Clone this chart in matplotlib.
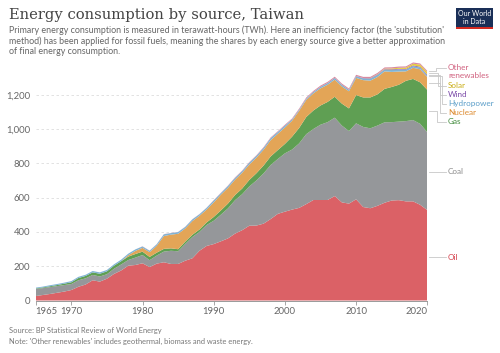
import numpy as np
import matplotlib
matplotlib.use("Agg")
import matplotlib.pyplot as plt
from matplotlib.patches import Rectangle

# ── DATA (TWh, substitution method) ──────────────────────────────────────────
years = list(range(1965, 2021))

oil = [26, 32, 38, 45, 52, 61, 80, 93, 118, 110, 127, 155, 175, 203, 207, 217,
       195, 215, 223, 213, 213, 232, 246, 290, 318, 329, 345, 362, 390, 410,
       436, 437, 448, 475, 505, 518, 530, 540, 562, 586, 586, 586, 609, 572,
       565, 590, 545, 538, 552, 570, 583, 585, 578, 578, 558, 527]
coal = [41, 40, 40, 39, 38, 35, 38, 36, 31, 30, 26, 30, 35, 33, 43, 48,
        40, 47, 62, 77, 74, 98, 124, 110, 122, 136, 155, 175, 195, 210,
        229, 263, 293, 315, 320, 340, 350, 376, 408, 414, 439, 454, 457, 448,
        423, 443, 467, 466, 468, 469, 457, 458, 468, 474, 472, 454]
gas = [3, 4, 5, 6, 8, 10, 13, 14, 15, 16, 17, 18, 19, 20, 21, 20,
       19, 17, 16, 14, 12, 13, 13, 14, 15, 22, 25, 28, 30, 33,
       38, 42, 46, 50, 52, 55, 75, 90, 100, 108, 112, 118, 122, 128,
       132, 165, 172, 180, 182, 195, 205, 215, 235, 240, 242, 247]
nuclear = [0, 0, 0, 0, 0, 0, 0, 0, 0, 0, 0, 0, 0, 8, 18, 22,
           28, 40, 75, 80, 90, 77, 80, 80, 75, 85, 92, 92, 90, 92,
           90, 91, 92, 95, 95, 96, 93, 100, 100, 100, 100, 100, 100, 100,
           100, 100, 101, 98, 101, 102, 88, 77, 55, 65, 76, 75]
hydro = [5, 5, 6, 6, 6, 7, 7, 7, 8, 8, 8, 8, 9, 9, 9, 8,
         8, 9, 10, 9, 10, 9, 10, 9, 10, 11, 9, 11, 10, 10,
         11, 11, 11, 12, 11, 11, 8, 7, 8, 8, 9, 10, 10, 10,
         8, 10, 10, 11, 12, 10, 11, 12, 10, 9, 10, 8]
wind = [0] * 40 + [0, 0, 0, 0, 1, 1, 2, 3, 3, 3, 4, 4, 4, 5, 5, 6]
solar = [0] * 40 + [0, 0, 0, 0, 0, 0, 0, 1, 2, 3, 5, 6, 8, 10, 12, 15]
other = ([0] * 15 + [1] * 10 + [2, 2, 2, 3, 3, 3, 3, 4, 4, 4]
         + [5, 5, 6, 6, 6, 7, 7, 7, 7, 7] + [7] * 11)

series = [oil, coal, gas, nuclear, hydro, wind, solar, other]
names = ["Oil", "Coal", "Gas", "Nuclear", "Hydropower", "Wind", "Solar", "Other\nrenewables"]
fill_cols = ["#db6166", "#95979a", "#5f9f53", "#e3a557", "#7fb3d4", "#8a67b0", "#e6cb3a", "#d8899f"]
text_cols = ["#d43f4a", "#8a8a8a", "#3f8a3a", "#dd8a2e", "#5b9ec9", "#7b4aa8", "#c9ad16", "#d0607e"]

# ── FIGURE ───────────────────────────────────────────────────────────────────
W, H = 500, 353
plt.rcParams["font.family"] = ["Lato", "DejaVu Sans"]
fig = plt.figure(figsize=(W / 100, H / 100), dpi=100, facecolor="white")

def fx(x):
    return x / W

def fy(y):
    return 1 - y / H

PX_PER_TWH = 0.1715
YMAX = 1400
ax = fig.add_axes([fx(35.7), fy(300.5), fx(427.3) - fx(35.7),
                   fy(300.5 - YMAX * PX_PER_TWH) - fy(300.5)])
ax.set_facecolor("none")

ax.stackplot(years, *series, colors=fill_cols, linewidth=0)
ax.set_xlim(1965, 2020)
ax.set_ylim(0, YMAX)

for v in range(200, 1400, 200):
    ax.axhline(v, color="#dddddd", lw=0.6, ls=(0, (3, 3)), zorder=0)

for s in ["top", "right", "left"]:
    ax.spines[s].set_visible(False)
ax.spines["bottom"].set_color("#999999")
ax.spines["bottom"].set_linewidth(0.7)

yt = list(range(0, 1400, 200))
ax.set_yticks(yt)
ax.set_yticklabels([f"{v:,}" for v in yt], fontsize=6.8, color="#666666")
ax.tick_params(axis="y", length=0, pad=4)

xt = [1965, 1970, 1980, 1990, 2000, 2010, 2020]
ax.set_xticks(xt)
ax.set_xticklabels([str(v) for v in xt], fontsize=6.8, color="#666666")
ax.tick_params(axis="x", length=3, color="#999999", width=0.6, pad=2)
labs = ax.get_xticklabels()
labs[0].set_horizontalalignment("left")
labs[-1].set_horizontalalignment("right")

total_end = sum(s[-1] for s in series)
ax.plot([2020, 2020], [0, total_end], color="#cccccc", lw=0.6, zorder=5)

# ── RIGHT-SIDE LABELS ────────────────────────────────────────────────────────
def to_px_y(v):
    return 300.5 - v * PX_PER_TWH

cum = np.cumsum([s[-1] for s in series])
mids = [to_px_y(c - s[-1] / 2) for c, s in zip(cum, series)]
label_y = [257, 172, 121.5, 112.5, 103.5, 94.5, 85.5, 67.5]
elbow_x = [437, 437, 437, 440, 442, 440, 438, 436]

for i in range(len(series)):
    my, ly, ex = mids[i], label_y[i], elbow_x[i]
    if i >= 2:
        xs = [429, ex, ex, 446]
        ys = [my, my, ly, ly]
    else:
        xs = [429, 446]
        ys = [ly, ly]
    fig.add_artist(plt.Line2D([fx(x) for x in xs], [fy(y) for y in ys],
                              color="#c8c8c8", lw=0.6))
    ty = ly if i != 7 else ly + 4
    fig.text(fx(448), fy(ty), names[i], fontsize=5.9, color=text_cols[i],
             ha="left", va="center", linespacing=1.2)

# ── TITLES AND NOTES ─────────────────────────────────────────────────────────
fig.text(fx(9), fy(15), "Energy consumption by source, Taiwan",
         fontsize=10.6, family="DejaVu Serif", color="#444444", va="center")
subtitle = ["Primary energy consumption is measured in terawatt-hours (TWh). Here an inefficiency factor (the 'substitution'",
            "method) has been applied for fossil fuels, meaning the shares by each energy source give a better approximation",
            "of final energy consumption."]
for k, line in enumerate(subtitle):
    fig.text(fx(9), fy(30.5 + k * 10.3), line, fontsize=6.4, color="#666666", va="center")

fig.text(fx(9), fy(331), "Source: BP Statistical Review of World Energy",
         fontsize=5.45, color="#777777", va="center")
fig.text(fx(9), fy(341), "Note: 'Other renewables' includes geothermal, biomass and waste energy.",
         fontsize=5.45, color="#777777", va="center")

# logo
fig.add_artist(Rectangle((fx(456), fy(29)), fx(37), fy(8) - fy(29),
                         facecolor="#1a2f57", edgecolor="none"))
fig.add_artist(Rectangle((fx(456), fy(29)), fx(37), fy(27) - fy(29),
                         facecolor="#d42b21", edgecolor="none"))
fig.text(fx(474.5), fy(17.5), "Our World\nin Data", fontsize=5, color="white",
         ha="center", va="center", linespacing=1.0)

fig.savefig("out.png", dpi=100, facecolor="white")
